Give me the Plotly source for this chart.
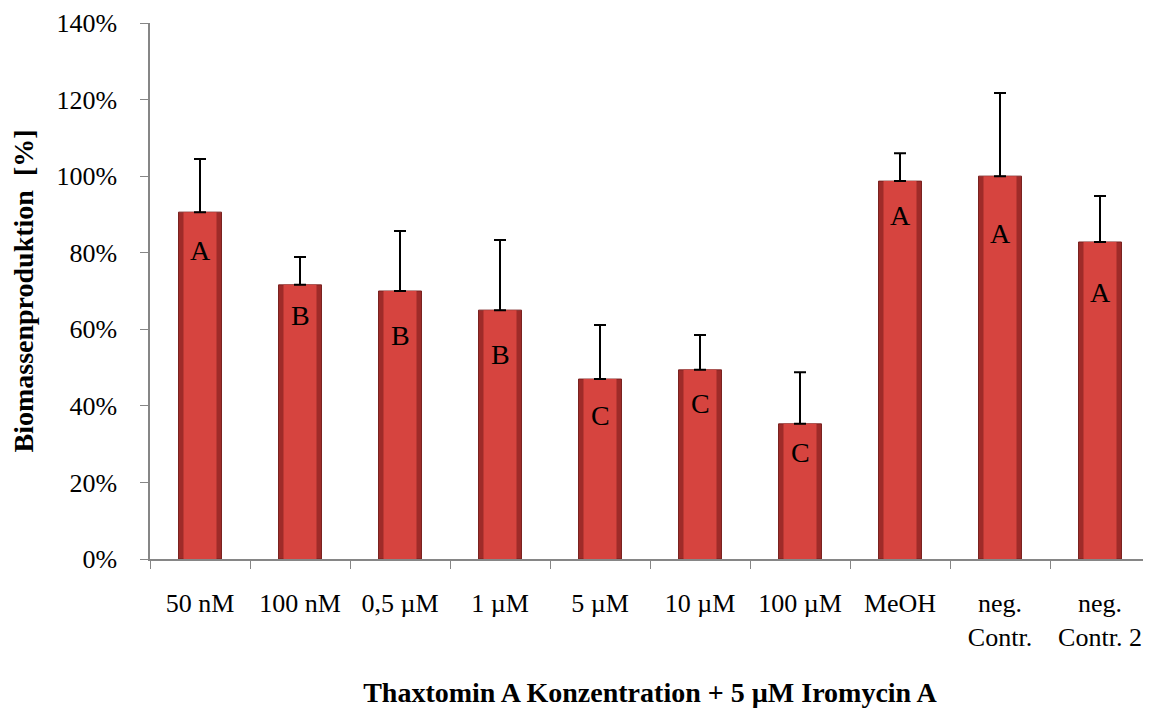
import plotly.graph_objects as go

categories = ["50 nM", "100 nM", "0,5 µM", "1 µM", "5 µM", "10 µM", "100 µM",
              "MeOH", "neg.<br>Contr.", "neg.<br>Contr. 2"]
values = [90.6, 71.6, 70.0, 65.0, 47.0, 49.4, 35.3, 98.7, 100.0, 82.8]
errors = [13.9, 7.3, 15.7, 18.3, 14.1, 9.1, 13.5, 7.3, 21.7, 12.0]
letters = ["A", "B", "B", "B", "C", "C", "C", "A", "A", "A"]
letter_pos = [80.7, 63.5, 58.5, 53.3, 37.6, 40.7, 27.7, 89.8, 85.1, 69.7]

SERIF = "Palatino Linotype, Book Antiqua, Liberation Serif, serif"

fig = go.Figure()
fig.add_trace(go.Bar(
    x=categories, y=values, width=0.43,
    marker=dict(color="#9e2b29", line=dict(color="#7a2220", width=1)),
    hoverinfo="skip", showlegend=False,
))
fig.add_trace(go.Bar(
    x=categories, y=values, width=0.33,
    marker=dict(color="#d6443f", line=dict(width=0)),
    error_y=dict(type="data", symmetric=False, array=errors,
                 arrayminus=[0] * len(errors), color="black",
                 thickness=2, width=6),
    showlegend=False,
))

for c, l, p in zip(categories, letters, letter_pos):
    fig.add_annotation(x=c, y=p, text=l, showarrow=False,
                       font=dict(family=SERIF, size=28, color="black"),
                       yanchor="middle")

# page body has an 8px default margin, so the figure is sized to fit the window
fig.update_layout(
    width=1143, height=705,
    margin=dict(l=142, r=1, t=15, b=154),
    paper_bgcolor="white", plot_bgcolor="white",
    barmode="overlay",
    font=dict(family=SERIF, size=26, color="black"),
    xaxis=dict(
        type="category", showline=True, linecolor="#868686", linewidth=1.5,
        ticks="outside", tickson="boundaries", ticklen=8, tickcolor="#868686",
        showgrid=False, tickfont=dict(family=SERIF, size=26),
        ticklabelstandoff=20, automargin=False,
        title=dict(text="<b>Thaxtomin A Konzentration + 5 µM Iromycin A</b>",
                   font=dict(family=SERIF, size=28), standoff=32),
    ),
    yaxis=dict(
        range=[0, 140], tickvals=[0, 20, 40, 60, 80, 100, 120, 140],
        ticktext=["0%", "20%", "40%", "60%", "80%", "100%", "120%", "140%"],
        showline=True, linecolor="#868686", linewidth=1.5,
        ticks="outside", ticklen=8, tickcolor="#868686",
        showgrid=False, zeroline=False, tickfont=dict(family=SERIF, size=26),
        ticklabelstandoff=18, automargin=False,
        title=dict(text="<b>Biomassenproduktion  [%]</b>",
                   font=dict(family=SERIF, size=28), standoff=25),
    ),
)

fig.write_html("out.html")
